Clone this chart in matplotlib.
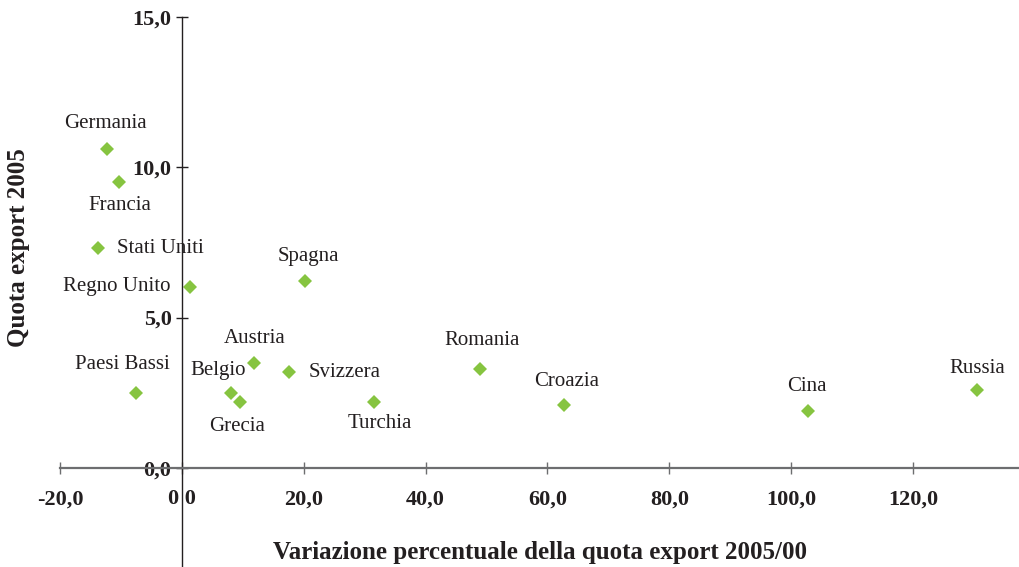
import matplotlib
matplotlib.use('Agg')
import matplotlib.pyplot as plt

# data
paesi = ["Germania", "Francia", "Stati Uniti", "Regno Unito", "Spagna",
         "Austria", "Svizzera", "Paesi Bassi", "Belgio", "Grecia",
         "Turchia", "Romania", "Croazia", "Cina", "Russia"]
variazione = [-12.3, -10.3, -13.8, 1.4, 20.2,
              11.8, 17.6, -7.5, 8.1, 9.5,
              31.6, 48.9, 62.8, 102.8, 130.5]
quota = [10.6, 9.5, 7.3, 6.0, 6.2,
         3.5, 3.2, 2.5, 2.5, 2.2,
         2.2, 3.3, 2.1, 1.9, 2.6]

x_ticks = [-20, 0, 20, 40, 60, 80, 100, 120]
x_tick_labels = ["-20,0", "0 0", "20,0", "40,0", "60,0", "80,0", "100,0", "120,0"]
y_ticks = [0, 5, 10, 15]
y_tick_labels = ["0,0", "5,0", "10,0", "15,0"]

# label placement: (dx, dy) in pixels from the marker, horizontal alignment
label_pos = {
    "Germania": (-1, 26, "center"),
    "Francia": (1, -23, "center"),
    "Stati Uniti": (19, 0, "left"),
    "Regno Unito": (-20, 1, "right"),
    "Spagna": (3, 25, "center"),
    "Austria": (1, 24, "center"),
    "Svizzera": (20, -1, "left"),
    "Paesi Bassi": (-14, 28, "center"),
    "Belgio": (-13, 22, "center"),
    "Grecia": (-3, -25, "center"),
    "Turchia": (5, -22, "center"),
    "Romania": (2, 28, "center"),
    "Croazia": (2, 23, "center"),
    "Cina": (-1, 24, "center"),
    "Russia": (0, 21, "center"),
}

plt.rcParams['font.family'] = ['Liberation Serif', 'DejaVu Serif']

fig = plt.figure(figsize=(10.19, 5.67), dpi=100)
ax = fig.add_axes([60 / 1019, 0, 959 / 1019, 549.7 / 567])

ax.plot(variazione, quota, linestyle='none', marker='D', markersize=7,
        color='#86c440', markeredgewidth=0)

for nome, x, y in zip(paesi, variazione, quota):
    dx, dy, ha = label_pos[nome]
    ax.annotate(nome, (x, y), xytext=(dx, dy), textcoords='offset pixels',
                ha=ha, va='center', fontsize=15, color='#231f20')

ax.set_xlim(-20, 137.4)
ax.set_ylim(-3.31, 15)

ax.spines['top'].set_visible(False)
ax.spines['right'].set_visible(False)
ax.spines['left'].set_position(('data', 0))
ax.spines['bottom'].set_position(('data', 0))
ax.spines['left'].set_color('#231f20')
ax.spines['bottom'].set_color('#6d6e70')
ax.spines['bottom'].set_linewidth(1.6)
ax.spines['left'].set_linewidth(1.0)

ax.set_xticks(x_ticks)
ax.set_xticklabels(x_tick_labels, fontsize=16, fontweight='bold', color='#231f20')
ax.set_yticks(y_ticks)
ax.set_yticklabels(y_tick_labels, fontsize=16, fontweight='bold', color='#231f20')
ax.tick_params(axis='x', direction='inout', length=9, width=1, color='#6d6e70', pad=11)
ax.tick_params(axis='y', direction='inout', length=9, width=1, color='#231f20', pad=3)

fig.text(540 / 1019, 1 - 553 / 567, "Variazione percentuale della quota export 2005/00",
         ha='center', va='center', fontsize=18, fontweight='bold', color='#231f20')
fig.text(19 / 1019, 1 - 248 / 567, "Quota export 2005", rotation=90,
         ha='center', va='center', fontsize=18, fontweight='bold', color='#231f20')

fig.savefig("out.png", dpi=100)
plt.close(fig)
